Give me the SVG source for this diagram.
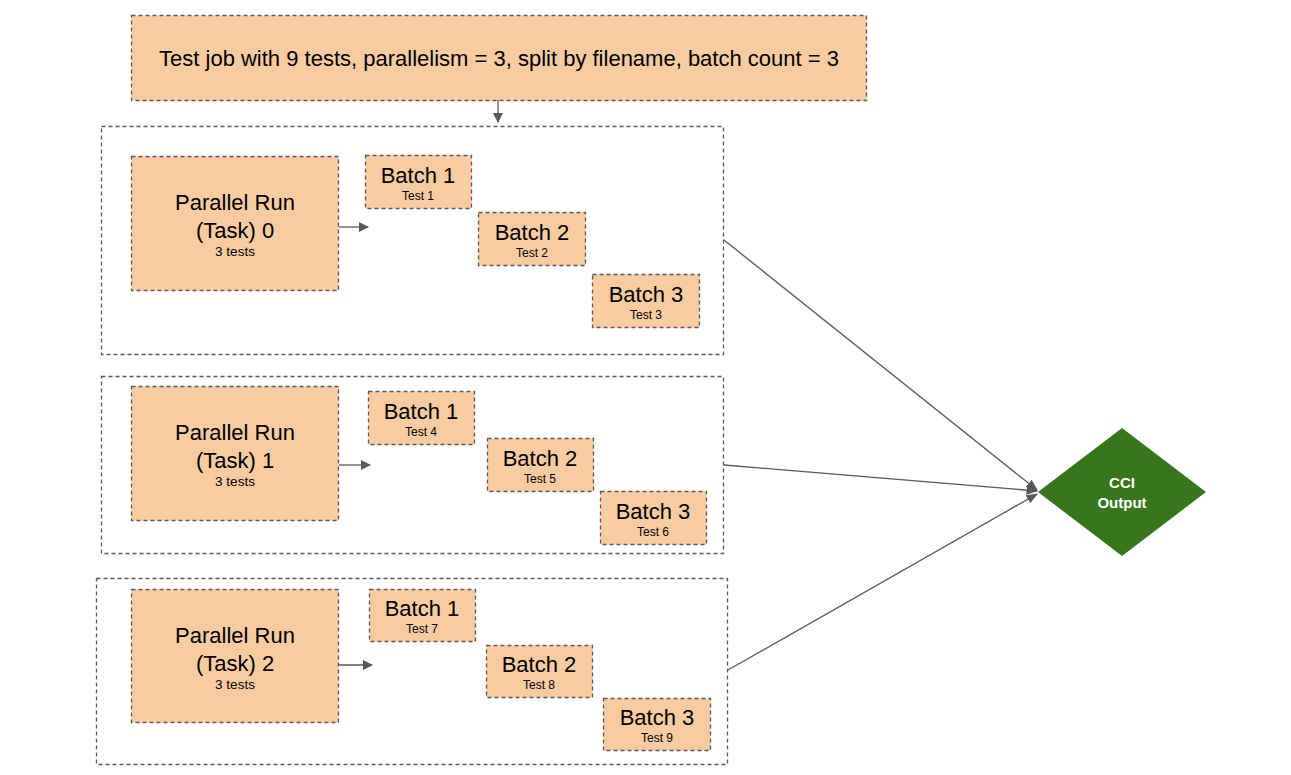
<svg xmlns="http://www.w3.org/2000/svg" width="1291" height="775" viewBox="0 0 1291 775">
<style>
.box{fill:#f8cba0;stroke:#595959;stroke-width:1.3;stroke-dasharray:4,3}
.cont{fill:#ffffff;stroke:#595959;stroke-width:1.3;stroke-dasharray:4,3}
.t{font-family:"Liberation Sans",Arial,sans-serif;fill:#000;text-anchor:middle}
.big{font-size:22px}
.small{font-size:13.5px}
.tiny{font-size:12px}
.conn{stroke:#595959;stroke-width:1.3;fill:none}
.w{font-family:"Liberation Sans",Arial,sans-serif;fill:#fff;font-weight:bold;font-size:15px;text-anchor:middle}
</style>
<defs>
<marker id="arr" viewBox="0 0 10 10" refX="9" refY="5" markerWidth="8" markerHeight="8" orient="auto" markerUnits="strokeWidth">
<path d="M0,0 L10,5 L0,10 z" fill="#595959"/>
</marker>
<marker id="arrbig" viewBox="0 0 10 10" refX="9" refY="5" markerWidth="9" markerHeight="9" orient="auto" markerUnits="strokeWidth">
<path d="M0,1 L10,5 L0,9 z" fill="#595959"/>
</marker>
</defs>
<rect width="1291" height="775" fill="#ffffff"/>

<g id="container0"><rect class="cont" x="101.5" y="126.5" width="622" height="228"/></g>
<g id="container1"><rect class="cont" x="101.5" y="376.5" width="622" height="177"/></g>
<g id="container2"><rect class="cont" x="96.5" y="578.5" width="631" height="186"/></g>

<g id="job">
<rect class="box" x="131.5" y="15.5" width="735" height="85"/>
<text class="t big" x="499" y="66">Test job with 9 tests, parallelism = 3, split by filename, batch count = 3</text>
</g>

<g id="task0">
<rect class="box" x="131.5" y="156.5" width="207" height="134"/>
<text class="t big" x="235" y="210">Parallel Run</text>
<text class="t big" x="235" y="238">(Task) 0</text>
<text class="t small" x="235" y="256">3 tests</text>
</g>
<g id="t0b1"><rect class="box" x="365.5" y="155.5" width="106" height="53"/><text class="t big" x="418" y="183">Batch 1</text><text class="t tiny" x="418" y="200">Test 1</text></g>
<g id="t0b2"><rect class="box" x="478.5" y="212.5" width="107" height="53"/><text class="t big" x="532" y="240">Batch 2</text><text class="t tiny" x="532" y="257">Test 2</text></g>
<g id="t0b3"><rect class="box" x="592.5" y="274.5" width="107" height="53"/><text class="t big" x="646" y="302">Batch 3</text><text class="t tiny" x="646" y="319">Test 3</text></g>

<g id="task1">
<rect class="box" x="131.5" y="386.5" width="207" height="134"/>
<text class="t big" x="235" y="440">Parallel Run</text>
<text class="t big" x="235" y="468">(Task) 1</text>
<text class="t small" x="235" y="486">3 tests</text>
</g>
<g id="t1b1"><rect class="box" x="368.5" y="391.5" width="106" height="53"/><text class="t big" x="421" y="419">Batch 1</text><text class="t tiny" x="421" y="436">Test 4</text></g>
<g id="t1b2"><rect class="box" x="487.5" y="438.5" width="106" height="53"/><text class="t big" x="540" y="466">Batch 2</text><text class="t tiny" x="540" y="483">Test 5</text></g>
<g id="t1b3"><rect class="box" x="600.5" y="491.5" width="106" height="53"/><text class="t big" x="653" y="519">Batch 3</text><text class="t tiny" x="653" y="536">Test 6</text></g>

<g id="task2">
<rect class="box" x="131.5" y="589.5" width="207" height="133"/>
<text class="t big" x="235" y="643">Parallel Run</text>
<text class="t big" x="235" y="671">(Task) 2</text>
<text class="t small" x="235" y="689">3 tests</text>
</g>
<g id="t2b1"><rect class="box" x="369.5" y="589.5" width="106" height="52"/><text class="t big" x="422" y="616">Batch 1</text><text class="t tiny" x="422" y="633">Test 7</text></g>
<g id="t2b2"><rect class="box" x="486.5" y="645.5" width="106" height="52"/><text class="t big" x="539" y="672">Batch 2</text><text class="t tiny" x="539" y="689">Test 8</text></g>
<g id="t2b3"><rect class="box" x="603.5" y="698.5" width="107" height="52"/><text class="t big" x="657" y="725">Batch 3</text><text class="t tiny" x="657" y="742">Test 9</text></g>

<g id="output">
<polygon points="1038,492 1122,428 1206,492 1122,556" fill="#38761d"/>
<text class="w" x="1122" y="488">CCI</text>
<text class="w" x="1122" y="508">Output</text>
</g>

<g id="connectors">
<line class="conn" x1="498" y1="100" x2="498" y2="122" marker-end="url(#arr)"/>
<line class="conn" x1="339" y1="227" x2="368" y2="227" marker-end="url(#arr)"/>
<line class="conn" x1="339" y1="465" x2="370" y2="465" marker-end="url(#arr)"/>
<line class="conn" x1="339" y1="665" x2="372" y2="665" marker-end="url(#arr)"/>
<line class="conn" x1="724" y1="240" x2="1037" y2="490" marker-end="url(#arrbig)"/>
<line class="conn" x1="724" y1="465" x2="1037" y2="491" marker-end="url(#arrbig)"/>
<line class="conn" x1="728" y1="670" x2="1037" y2="494" marker-end="url(#arrbig)"/>
</g>
</svg>
